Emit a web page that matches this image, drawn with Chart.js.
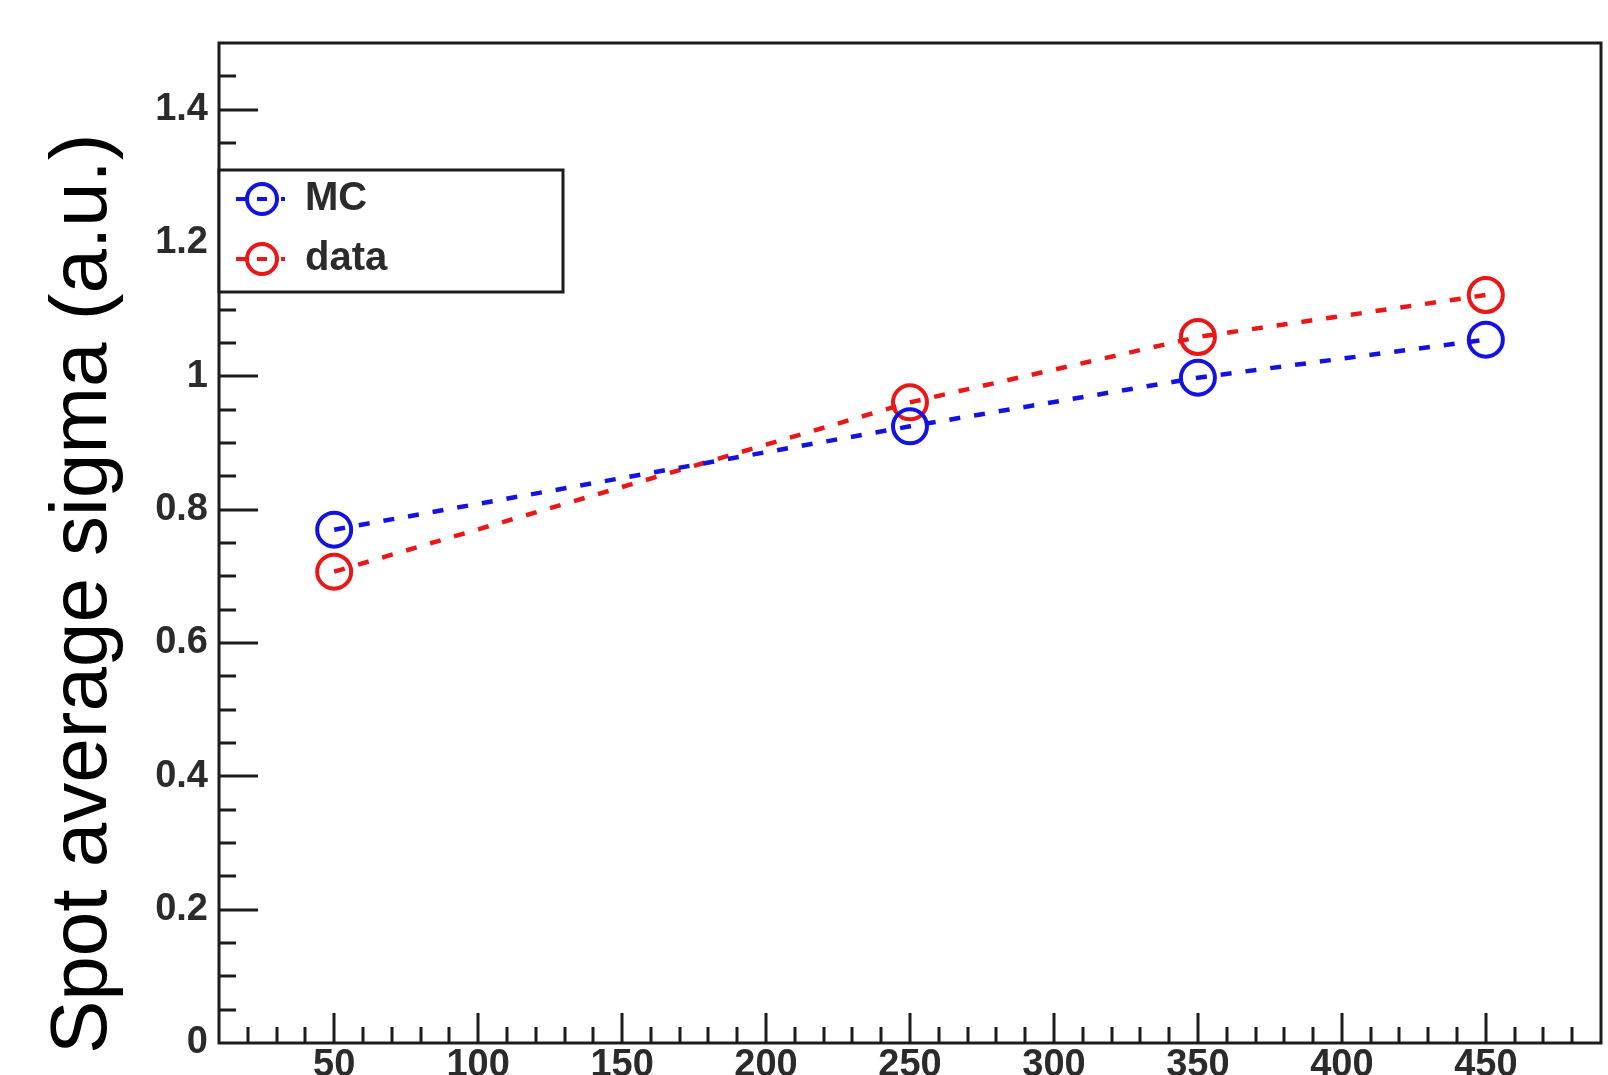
<!DOCTYPE html>
<html>
<head>
<meta charset="utf-8">
<script src="https://cdn.jsdelivr.net/npm/chart.js@4/dist/chart.umd.min.js"></script>
<style>
  html, body { margin: 0; padding: 0; background: #fff; overflow: hidden; }
  #wrap { width: 1608px; height: 1075px; }
  canvas { display: block; }
</style>
</head>
<body>
<div id="wrap"><canvas id="sigmaChart" width="1608" height="1075"></canvas></div>
<script>
// values
const xValues = [50, 250, 350, 450];
const mcSigma = [0.770, 0.925, 0.998, 1.055];
const dataSigma = [0.707, 0.961, 1.059, 1.122];
const seriesNames = ["MC", "data"];
const xTickLabels = [50, 100, 150, 200, 250, 300, 350, 400, 450];
const yTickLabels = [0, 0.2, 0.4, 0.6, 0.8, 1, 1.2, 1.4];

const blue = "rgb(18, 18, 225)";
const red = "rgb(235, 22, 22)";
const ink = "#1c1c1c";
const labelInk = "#2b2b2b";
const fontFamily = "'Liberation Sans', Arial, sans-serif";

function toPoints(ys) {
    return xValues.map((x, i) => ({ x: x, y: ys[i] }));
}

// ROOT style frame, inward ticks and the boxed legend
const rootFrame = {
    id: "rootFrame",
    afterDraw(chart) {
        const ctx = chart.ctx;
        const area = chart.chartArea;
        const xs = chart.scales.x;
        const ys = chart.scales.y;
        ctx.save();
        ctx.strokeStyle = ink;
        ctx.lineWidth = 3;
        ctx.beginPath();
        // x ticks every 10, long ones every 50
        for (let v = 20; v < 490; v += 10) {
            const px = Math.round(xs.getPixelForValue(v));
            const len = v % 50 === 0 ? 30 : 16;
            ctx.moveTo(px, area.bottom);
            ctx.lineTo(px, area.bottom - len);
        }
        // y ticks every 0.05, long ones every 0.2
        for (let k = 1; k < 30; k++) {
            const py = Math.round(ys.getPixelForValue(k * 0.05));
            const len = k % 4 === 0 ? 39 : 17;
            ctx.moveTo(area.left, py);
            ctx.lineTo(area.left + len, py);
        }
        ctx.stroke();
        ctx.strokeRect(area.left, area.top, area.right - area.left, area.bottom - area.top);

        // legend
        const box = { l: area.left, t: 170, r: 563, b: 292 };
        ctx.fillStyle = "#fff";
        ctx.fillRect(box.l, box.t, box.r - box.l, box.b - box.t);
        ctx.strokeRect(box.l, box.t, box.r - box.l, box.b - box.t);
        const rowY = [199, 259];
        chart.data.datasets.forEach((ds, i) => {
            const cy = rowY[i];
            const cx = 262;
            ctx.strokeStyle = ds.borderColor;
            ctx.lineWidth = 4;
            ctx.beginPath();
            ctx.moveTo(cx - 26, cy); ctx.lineTo(cx - 16, cy);
            ctx.moveTo(cx - 5, cy); ctx.lineTo(cx + 5, cy);
            ctx.moveTo(cx + 19, cy); ctx.lineTo(cx + 23, cy);
            ctx.stroke();
            ctx.beginPath();
            ctx.arc(cx, cy, 15, 0, Math.PI * 2);
            ctx.stroke();
            ctx.fillStyle = labelInk;
            ctx.font = "bold 40px " + fontFamily;
            ctx.textBaseline = "middle";
            ctx.textAlign = "left";
            ctx.fillText(ds.label, 305, cy);
        });
        ctx.restore();
    }
};

const ctx = document.getElementById("sigmaChart").getContext("2d");
const sigmaChart = new Chart(ctx, {
    type: "line",
    data: {
        datasets: [
            {
                label: seriesNames[0],
                data: toPoints(mcSigma),
                borderColor: blue,
                borderWidth: 4.5,
                borderDash: [11, 14],
                pointRadius: 17,
                pointBorderWidth: 4,
                pointBorderColor: blue,
                pointBackgroundColor: "rgba(0,0,0,0)",
                tension: 0
            },
            {
                label: seriesNames[1],
                data: toPoints(dataSigma),
                borderColor: red,
                borderWidth: 4.5,
                borderDash: [11, 14],
                pointRadius: 17,
                pointBorderWidth: 4,
                pointBorderColor: red,
                pointBackgroundColor: "rgba(0,0,0,0)",
                tension: 0
            }
        ]
    },
    options: {
        responsive: false,
        animation: false,
        layout: { autoPadding: false, padding: { left: 0, top: 43, right: 7, bottom: 0 } },
        plugins: {
            legend: { display: false },
            tooltip: { enabled: false }
        },
        scales: {
            x: {
                type: "linear",
                min: 10,
                max: 490,
                grid: { display: false, drawTicks: false },
                border: { display: false },
                afterBuildTicks: scale => {
                    scale.ticks = xTickLabels.map(v => ({ value: v }));
                },
                afterFit: scale => {
                    scale.height = 32;
                    scale.paddingLeft = 0;
                    scale.paddingRight = 0;
                },
                ticks: {
                    padding: 0,
                    color: labelInk,
                    maxRotation: 0,
                    autoSkip: false,
                    font: { family: fontFamily, size: 38, weight: "bold" },
                    callback: v => String(v)
                }
            },
            y: {
                type: "linear",
                min: 0,
                max: 1.5,
                grid: { display: false, drawTicks: false },
                border: { display: false },
                afterBuildTicks: scale => {
                    scale.ticks = yTickLabels.map(v => ({ value: v }));
                },
                afterFit: scale => {
                    scale.width = 219;
                    scale.paddingTop = 0;
                    scale.paddingBottom = 0;
                    // the title in the reference starts a little below the frame
                    if (!scale._titleShifted) {
                        const drawTitle = scale.drawTitle;
                        scale.drawTitle = function () {
                            this.ctx.save();
                            this.ctx.translate(0, 11);
                            drawTitle.call(this);
                            this.ctx.restore();
                        };
                        scale._titleShifted = true;
                    }
                },
                ticks: {
                    padding: 11,
                    color: labelInk,
                    autoSkip: false,
                    font: { family: fontFamily, size: 38, weight: "bold" },
                    callback: v => String(+v.toFixed(1))
                },
                title: {
                    display: true,
                    text: "Spot average sigma (a.u.)",
                    align: "start",
                    color: "#000",
                    padding: { top: 44, bottom: 0 },
                    font: { family: fontFamily, size: 80, lineHeight: 1 }
                }
            }
        }
    },
    plugins: [rootFrame]
});
</script>
</body>
</html>
